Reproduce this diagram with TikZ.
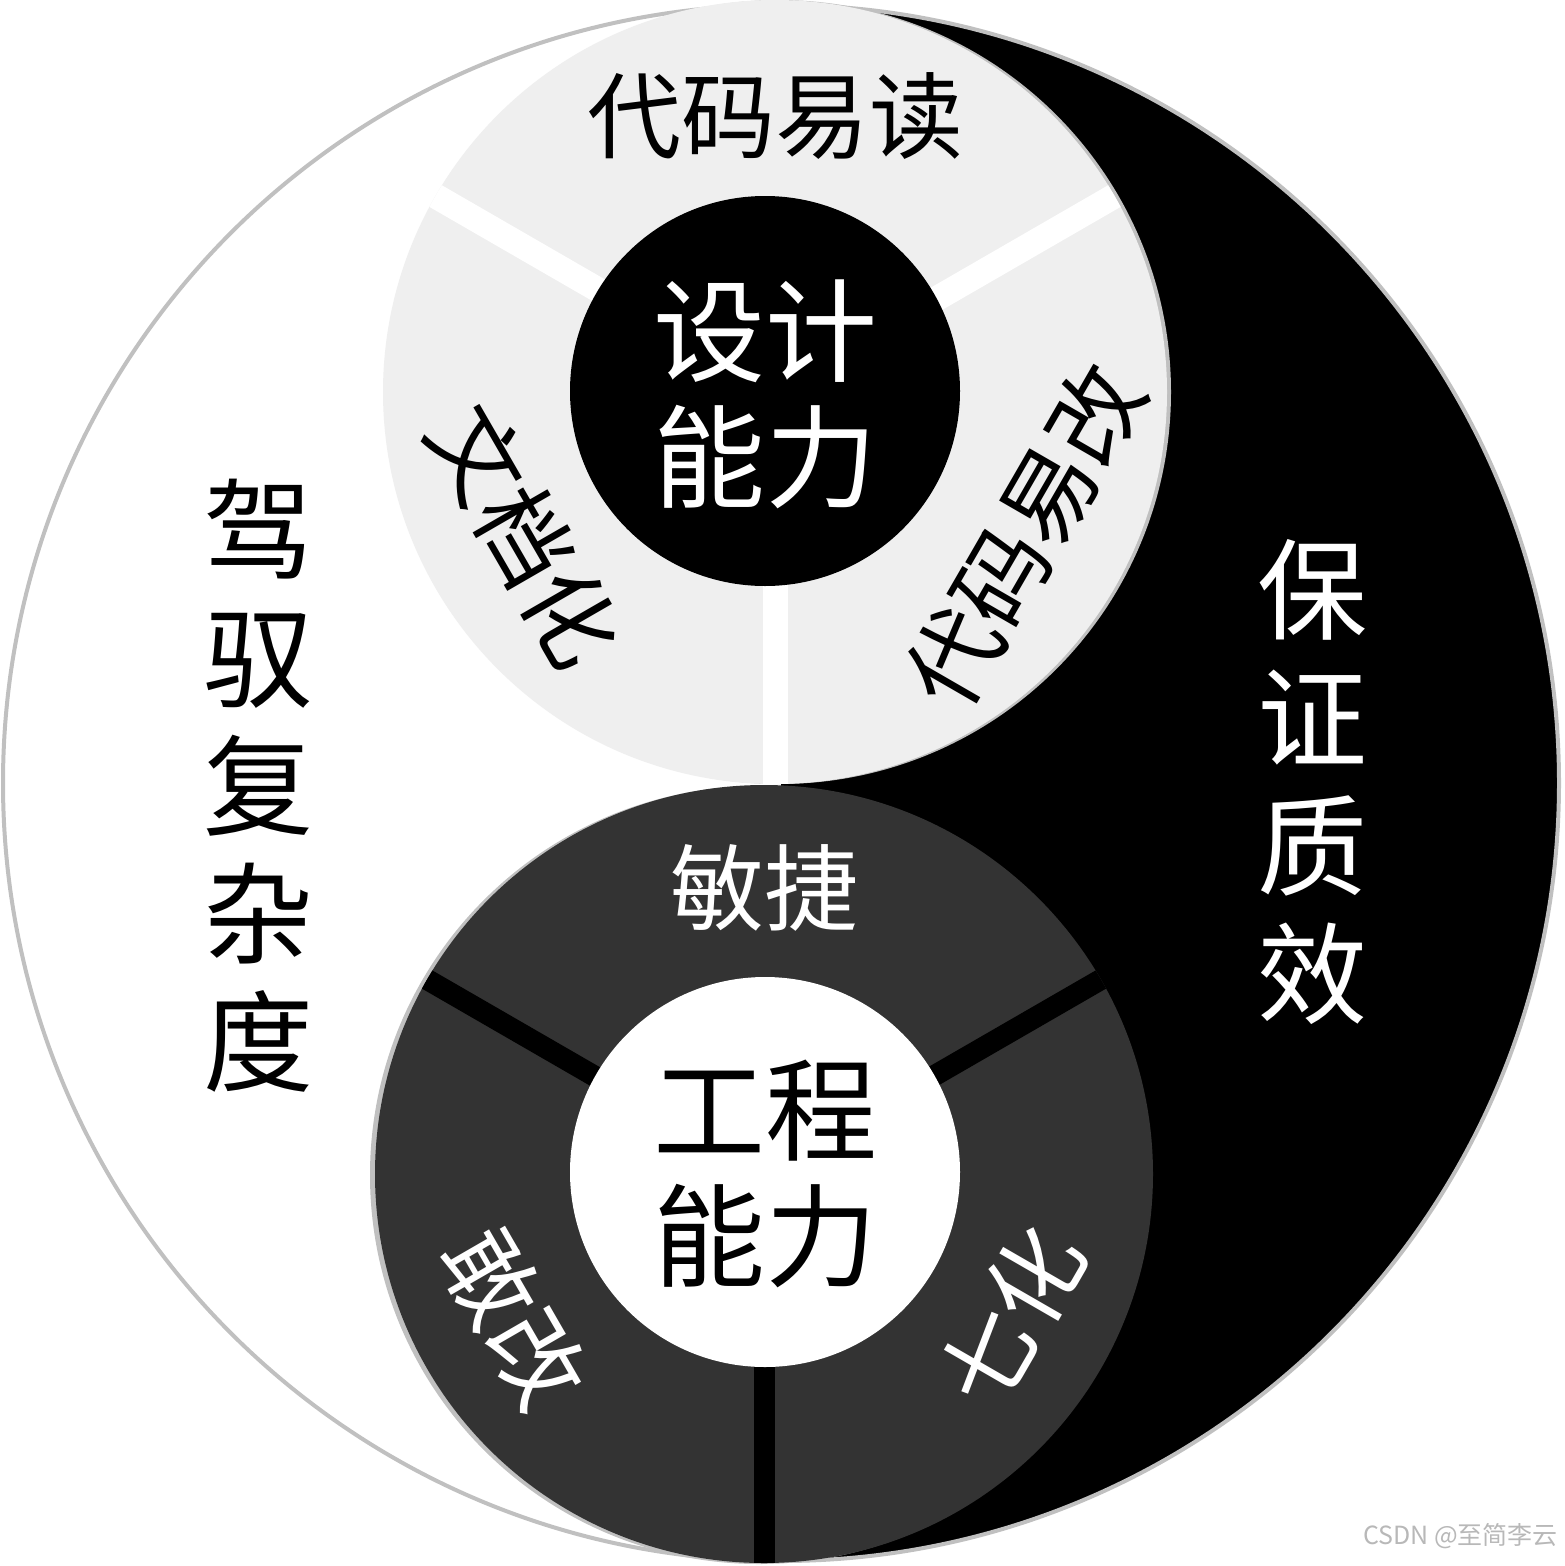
\documentclass[tikz,border=0pt]{standalone}
\usepackage{fontspec}
\newfontfamily\cjk{Noto Sans CJK SC}
\usetikzlibrary{calc}
\definecolor{ringlight}{HTML}{EFEFEF}
\definecolor{ringdark}{HTML}{333333}
\definecolor{rimgray}{HTML}{C0C0C0}

\begin{document}
\begin{tikzpicture}[x=1pt,y=-1pt,
  ringtext/.style={font=\cjk\fontsize{94}{94}\selectfont,inner sep=0pt},
  coretext/.style={font=\cjk\fontsize{112}{126}\selectfont,align=center,inner sep=0pt},
  sidetext/.style={font=\cjk\fontsize{110}{128}\selectfont,align=center,inner sep=0pt}]
\useasboundingbox (0,0) rectangle (1564,1566);
\coordinate (mid) at (781,783);
\coordinate (up) at (775,392);
\coordinate (lo) at (764,1174);
% big disc, white half and black half
\fill[white] (mid) circle (778pt);
\begin{scope}
\clip (mid) circle (778pt);
\fill[black] (781,0) rectangle (1564,1566);
\end{scope}
\draw[rimgray,line width=4pt] (mid) circle (778pt);
% upper ring
\fill[rimgray] ($(up)+(4,0)$) circle (392pt);
\fill[ringlight] (up) circle (392pt);
\begin{scope}
\clip (up) circle (392pt);
\foreach \a in {150,30,270}
  \draw[white,line width=25pt] ($(up)+(\a:150pt)$) -- ($(up)+(\a:420pt)$);
\end{scope}
\fill[black] (765,391) circle (195pt);
% lower ring
\fill[rimgray] ($(lo)+(-5,1)$) circle (389pt);
\fill[ringdark] (lo) circle (389pt);
\begin{scope}
\clip (lo) circle (389pt);
\foreach \a in {150,30,270}
  \draw[black,line width=21pt] ($(lo)+(\a:150pt)$) -- ($(lo)+(\a:420pt)$);
\end{scope}
\fill[white] (765,1172) circle (195pt);
% labels
\node[ringtext] (read) at ($(up)+(90:276pt)$) {代码易读};
\node[ringtext,rotate=-60] (docs) at ($(up)+(210:288pt)$) {文档化};
\node[ringtext,rotate=60] (edit) at ($(up)+(330:288pt)$) {代码易改};
\node[coretext,white] (design) at (765,394) {设计\\能力};
\node[ringtext,white] (agile) at ($(lo)+(90:286pt)$) {敏捷};
\node[ringtext,white,rotate=-60] (dare) at ($(lo)+(210:288pt)$) {敢改};
\node[ringtext,white,rotate=60] (auto) at ($(lo)+(330:286pt)$) {七化};
\node[coretext] (eng) at (765,1174) {工程\\能力};
\node[sidetext] (tame) at (258,786) {驾\\驭\\复\\杂\\度};
\node[sidetext,white] (keep) at (1312,782) {保\\证\\质\\效};
\node[font=\cjk\fontsize{25}{25}\selectfont,text=black!28,anchor=east,inner sep=0pt] (mark) at (1558,1536) {CSDN @至简李云};
\end{tikzpicture}
\end{document}
